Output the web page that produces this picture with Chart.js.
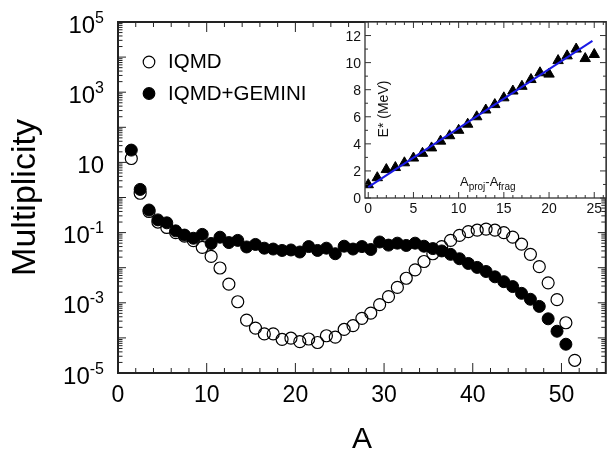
<!DOCTYPE html>
<html>
<head>
<meta charset="utf-8">
<script src="https://cdn.jsdelivr.net/npm/chart.js@4.4.1/dist/chart.umd.min.js"></script>
<style>
  body { margin: 0; background: #fff; }
  #wrap { position: relative; width: 613px; height: 453px; }
  #main { position: absolute; left: 0; top: 0; }
  #inset { position: absolute; left: 320px; top: 0; }
</style>
</head>
<body>
<div id="wrap">
  <canvas id="main" width="613" height="453"></canvas>
  <canvas id="inset" width="293" height="230"></canvas>
</div>
<script>
const FAMILY = '"Liberation Sans", Arial, Helvetica, sans-serif';

// fragment mass bins (centres)
const binCentres = Array.from({ length: 51 }, (_, i) => i + 1.5);

// multiplicity per bin, IQMD alone
const iqmd = [
  12.9, 1.32, 0.40, 0.20, 0.14, 0.10, 0.079, 0.059, 0.038, 0.021,
  9.8e-3, 3.4e-3, 1.07e-3, 3.2e-4, 1.9e-4, 1.3e-4, 1.3e-4, 9.1e-5, 9.8e-5, 7.8e-5,
  9.3e-5, 7.4e-5, 1.15e-4, 1.05e-4, 1.74e-4, 2.24e-4, 3.6e-4, 5.1e-4, 8.9e-4, 1.5e-3,
  2.75e-3, 5.0e-3, 8.7e-3, 0.015, 0.025, 0.040, 0.060, 0.083, 0.107, 0.117,
  0.126, 0.117, 0.100, 0.074, 0.047, 0.024, 0.0107, 3.7e-3, 1.23e-3, 2.7e-4,
  2.3e-5
];

// multiplicity per bin, IQMD followed by GEMINI de-excitation
const iqmdGemini = [
  22.4, 1.70, 0.44, 0.23, 0.19, 0.112, 0.085, 0.069, 0.089, 0.049,
  0.074, 0.052, 0.060, 0.039, 0.046, 0.036, 0.034, 0.031, 0.032, 0.028,
  0.040, 0.031, 0.036, 0.025, 0.041, 0.034, 0.040, 0.033, 0.054, 0.044,
  0.050, 0.043, 0.050, 0.041, 0.035, 0.030, 0.024, 0.018, 0.0132, 0.0102,
  7.8e-3, 5.5e-3, 4.0e-3, 2.9e-3, 1.86e-3, 1.26e-3, 7.9e-4, 3.5e-4, 1.55e-4, 6.6e-5
];

// inset: excitation energy vs. nucleons removed from the projectile
const removed = [0, 1, 2, 3, 4, 5, 6, 7, 8, 9, 10, 11, 12, 13, 14, 15, 16, 17, 18, 19, 20, 21, 22, 23, 24, 25];
const excitation = [0.98, 1.5, 2.1, 2.25, 2.6, 2.95, 3.3, 3.7, 4.2, 4.6, 5.0, 5.45, 6.0, 6.5, 6.9,
                    7.4, 7.9, 8.25, 8.75, 9.25, 9.15, 10.15, 10.5, 11.0, 10.3, 10.6];
const fitX = [0, 24.8];
const fitY = [0.8, 11.6];

const xTickLabels = [0, 10, 20, 30, 40, 50];
const yTickExponents = [5, 3, 1, -1, -3, -5];
const insetXTicks = [0, 5, 10, 15, 20, 25];
const insetYTicks = [0, 2, 4, 6, 8, 10, 12];

const toPoints = (xs, ys) => ys.map((y, i) => ({ x: xs[i], y }));

function line(ctx, x1, y1, x2, y2) {
  ctx.beginPath();
  ctx.moveTo(x1, y1);
  ctx.lineTo(x2, y2);
  ctx.stroke();
}

// inward ticks on all four sides of a plot box
function boxTicks(ctx, area, scale, values, isMajor, majorLen, minorLen) {
  for (const v of values) {
    const p = scale.getPixelForValue(v);
    const len = isMajor(v) ? majorLen : minorLen;
    if (scale.isHorizontal()) {
      line(ctx, p, area.bottom, p, area.bottom - len);
      line(ctx, p, area.top, p, area.top + len);
    } else {
      line(ctx, area.left, p, area.left + len, p);
      line(ctx, area.right, p, area.right - len, p);
    }
  }
}

const mainDecor = {
  id: 'mainDecor',
  afterDraw(chart) {
    const { ctx, chartArea: a, scales: { x, y } } = chart;
    ctx.save();
    ctx.strokeStyle = '#222';
    ctx.lineWidth = 1;

    const xMinor = [];
    for (let v = 0; v <= 54; v += 2) xMinor.push(v);
    boxTicks(ctx, a, x, xMinor, v => v % 10 === 0, 10, 5);

    const yMinor = [];
    for (let k = -5; k < 5; k++) for (let m = 1; m < 10; m++) yMinor.push(m * Math.pow(10, k));
    yMinor.push(1e5);
    boxTicks(ctx, a, y, yMinor, v => Math.abs(Math.log10(v) - Math.round(Math.log10(v))) < 1e-9, 8, 4.5);

    ctx.lineWidth = 2;
    ctx.strokeRect(a.left, a.top, a.right - a.left, a.bottom - a.top);

    ctx.fillStyle = '#000';
    ctx.textAlign = 'center';
    ctx.textBaseline = 'alphabetic';
    ctx.font = `23px ${FAMILY}`;
    for (const v of xTickLabels) ctx.fillText(String(v), x.getPixelForValue(v), a.bottom + 28.5);

    ctx.textAlign = 'left';
    for (const e of yTickExponents) {
      const p = y.getPixelForValue(Math.pow(10, e));
      const exp = e === 1 ? '' : String(e);
      ctx.font = `24px ${FAMILY}`;
      const wb = ctx.measureText('10').width;
      ctx.font = `16px ${FAMILY}`;
      const we = exp ? ctx.measureText(exp).width : 0;
      const x0 = 104 - wb - we;
      ctx.font = `24px ${FAMILY}`;
      ctx.fillText('10', x0, p + 10.5);
      if (exp) {
        ctx.font = `16px ${FAMILY}`;
        ctx.fillText(exp, x0 + wb, p + 0.5);
      }
    }

    // legend
    const ds = chart.data.datasets;
    const rows = [62, 93.5];
    ds.forEach((d, i) => {
      ctx.beginPath();
      ctx.arc(149, rows[i], 5.8, 0, Math.PI * 2);
      ctx.lineWidth = 1.2;
      ctx.strokeStyle = '#000';
      if (d.backgroundColor === '#000') { ctx.fillStyle = '#000'; ctx.fill(); }
      ctx.stroke();
      ctx.fillStyle = '#000';
      ctx.font = `20.5px ${FAMILY}`;
      ctx.textBaseline = 'middle';
      ctx.fillText(d.label, 168, rows[i] + 0.5);
    });
    ctx.restore();
  }
};

new Chart(document.getElementById('main'), {
  type: 'scatter',
  data: {
    datasets: [
      {
        label: 'IQMD',
        data: toPoints(binCentres, iqmd),
        pointRadius: 6,
        borderWidth: 1.2,
        borderColor: '#000',
        backgroundColor: 'rgba(255,255,255,0)',
        order: 2
      },
      {
        label: 'IQMD+GEMINI',
        data: toPoints(binCentres, iqmdGemini),
        pointRadius: 6,
        borderWidth: 1,
        borderColor: '#000',
        backgroundColor: '#000',
        order: 1
      }
    ]
  },
  options: {
    responsive: false,
    animation: false,
    devicePixelRatio: 1,
    layout: { padding: { top: 22, right: 1, left: 0, bottom: 0 } },
    plugins: { legend: { display: false }, tooltip: { enabled: false } },
    scales: {
      x: {
        type: 'linear', min: 0, max: 55,
        grid: { display: false }, border: { display: false }, ticks: { display: false },
        title: { display: true, text: 'A', color: '#000', padding: 0, font: { family: FAMILY, size: 30, lineHeight: 0.9 } },
        afterFit: s => { s.height = 80; }
      },
      y: {
        type: 'logarithmic', min: 1e-5, max: 1e5,
        grid: { display: false }, border: { display: false }, ticks: { display: false },
        title: { display: true, text: 'Multiplicity', color: '#000', padding: { top: 5, bottom: 0 }, font: { family: FAMILY, size: 34 } },
        afterFit: s => { s.width = 118; }
      }
    }
  },
  plugins: [mainDecor]
});

const insetDecor = {
  id: 'insetDecor',
  beforeDatasetsDraw(chart) {
    const { ctx, chartArea: a } = chart;
    ctx.save();
    ctx.fillStyle = '#fff';
    ctx.fillRect(a.left, a.top, a.right - a.left, a.bottom - a.top);
    ctx.restore();
  },
  afterDraw(chart) {
    const { ctx, chartArea: a, scales: { x, y } } = chart;
    ctx.save();
    ctx.strokeStyle = '#333';
    ctx.lineWidth = 1;
    const xMinor = [];
    for (let v = 0; v <= 26; v++) xMinor.push(v);
    boxTicks(ctx, a, x, xMinor, v => v % 5 === 0, 6, 3);
    const yMinor = [];
    for (let v = 0; v <= 13; v++) yMinor.push(v);
    boxTicks(ctx, a, y, yMinor, v => v % 2 === 0, 6, 3);
    ctx.lineWidth = 1.3;
    ctx.strokeRect(a.left, a.top, a.right - a.left, a.bottom - a.top);

    ctx.fillStyle = '#111';
    ctx.font = `14px ${FAMILY}`;
    ctx.textBaseline = 'alphabetic';
    ctx.textAlign = 'center';
    for (const v of insetXTicks) ctx.fillText(String(v), x.getPixelForValue(v), a.bottom + 15);
    ctx.textAlign = 'right';
    for (const v of insetYTicks) ctx.fillText(String(v), a.left - 4, y.getPixelForValue(v) + 5);

    // axis captions inside the box
    ctx.save();
    ctx.translate(a.left + 19, (a.top + a.bottom) / 2 - 1);
    ctx.rotate(-Math.PI / 2);
    ctx.textAlign = 'center';
    ctx.textBaseline = 'middle';
    ctx.font = `14px ${FAMILY}`;
    ctx.fillText('E* (MeV)', 0, 0);
    ctx.restore();

    let cx = a.left + 95;
    const by = a.bottom - 12.5;
    ctx.textAlign = 'left';
    const parts = [['A', 13, 0], ['proj', 10, 4.5], ['-', 13, 0], ['A', 13, 0], ['frag', 10, 4.5]];
    for (const [t, size, dy] of parts) {
      ctx.font = `${size}px ${FAMILY}`;
      ctx.fillText(t, cx, by + dy);
      cx += ctx.measureText(t).width;
    }
    ctx.restore();
  }
};

new Chart(document.getElementById('inset'), {
  type: 'scatter',
  data: {
    datasets: [
      {
        label: 'fit',
        data: toPoints(fitX, fitY),
        showLine: true,
        borderColor: '#1a1ae6',
        borderWidth: 2,
        pointRadius: 0,
        order: 1
      },
      {
        label: 'E*',
        data: toPoints(removed, excitation),
        pointStyle: 'triangle',
        pointRadius: 6,
        borderWidth: 1,
        borderColor: '#000',
        backgroundColor: '#000',
        order: 2
      }
    ]
  },
  options: {
    responsive: false,
    animation: false,
    devicePixelRatio: 1,
    layout: { padding: { top: 22, right: 1, left: 0, bottom: 0 } },
    plugins: { legend: { display: false }, tooltip: { enabled: false } },
    scales: {
      x: {
        type: 'linear', min: -0.36, max: 26.3,
        grid: { display: false }, border: { display: false }, ticks: { display: false },
        afterFit: s => { s.height = 32; }
      },
      y: {
        type: 'linear', min: 0, max: 13,
        grid: { display: false }, border: { display: false }, ticks: { display: false },
        afterFit: s => { s.width = 45; }
      }
    }
  },
  plugins: [insetDecor]
});
</script>
</body>
</html>
